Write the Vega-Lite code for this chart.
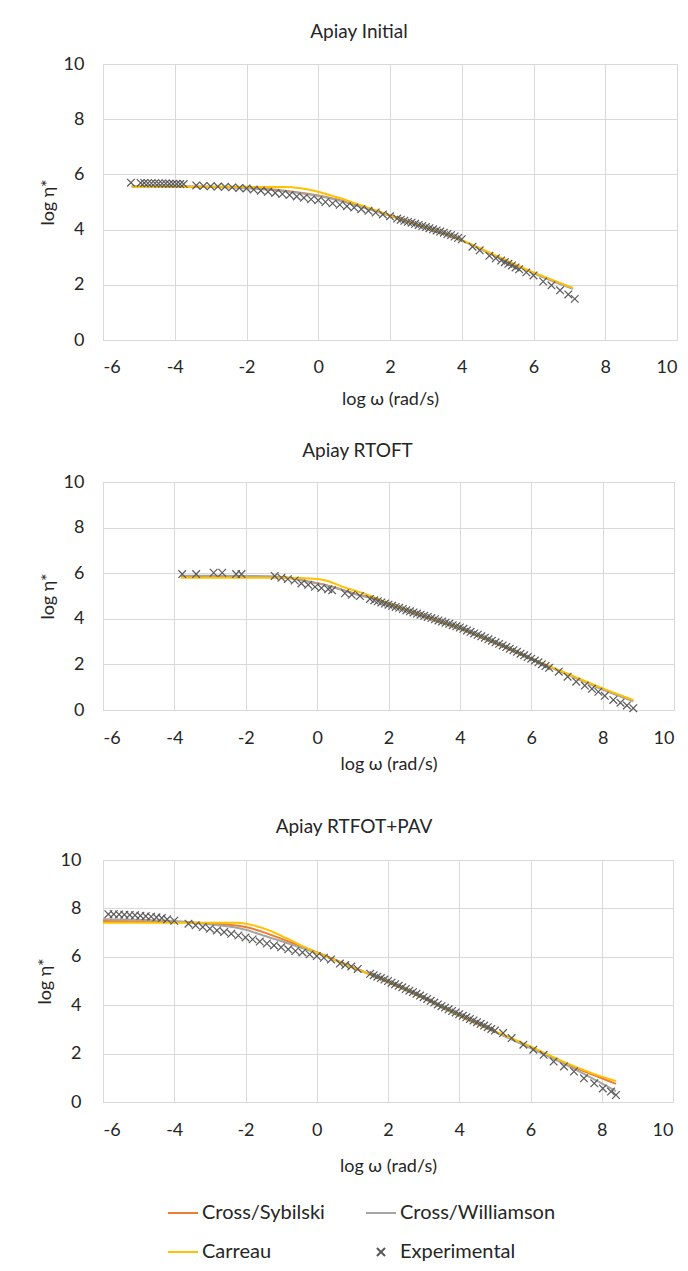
{
"$schema":"https://vega.github.io/schema/vega-lite/v6.json",
"padding":{"left":35,"top":22,"right":5,"bottom":5},
"background":"white",
"datasets":{
"p1":[
{"x":-5.2,"y":5.56,"s":"Cross/Sybilski"},{"x":-4,"y":5.56,"s":"Cross/Sybilski"},{"x":-3,"y":5.55,"s":"Cross/Sybilski"},{"x":-2,"y":5.51,"s":"Cross/Sybilski"},{"x":-1,"y":5.42,"s":"Cross/Sybilski"},{"x":-0.5,"y":5.34,"s":"Cross/Sybilski"},{"x":0,"y":5.24,"s":"Cross/Sybilski"},{"x":0.5,"y":5.1,"s":"Cross/Sybilski"},{"x":1,"y":4.92,"s":"Cross/Sybilski"},{"x":1.5,"y":4.72,"s":"Cross/Sybilski"},{"x":2,"y":4.51,"s":"Cross/Sybilski"},{"x":3,"y":4.07,"s":"Cross/Sybilski"},{"x":4,"y":3.61,"s":"Cross/Sybilski"},{"x":5,"y":3.01,"s":"Cross/Sybilski"},{"x":6,"y":2.43,"s":"Cross/Sybilski"},{"x":7.1,"y":1.87,"s":"Cross/Sybilski"},
{"x":-5.2,"y":5.57,"s":"Cross/Williamson"},{"x":-4,"y":5.56,"s":"Cross/Williamson"},{"x":-3,"y":5.55,"s":"Cross/Williamson"},{"x":-2,"y":5.5,"s":"Cross/Williamson"},{"x":-1,"y":5.4,"s":"Cross/Williamson"},{"x":-0.5,"y":5.32,"s":"Cross/Williamson"},{"x":0,"y":5.22,"s":"Cross/Williamson"},{"x":0.5,"y":5.08,"s":"Cross/Williamson"},{"x":1,"y":4.9,"s":"Cross/Williamson"},{"x":1.5,"y":4.71,"s":"Cross/Williamson"},{"x":2,"y":4.5,"s":"Cross/Williamson"},{"x":3,"y":4.06,"s":"Cross/Williamson"},{"x":4,"y":3.6,"s":"Cross/Williamson"},{"x":5,"y":3.0,"s":"Cross/Williamson"},{"x":6,"y":2.42,"s":"Cross/Williamson"},{"x":7.1,"y":1.85,"s":"Cross/Williamson"},
{"x":-5.2,"y":5.55,"s":"Carreau"},{"x":-4,"y":5.55,"s":"Carreau"},{"x":-3,"y":5.55,"s":"Carreau"},{"x":-2,"y":5.55,"s":"Carreau"},{"x":-1,"y":5.54,"s":"Carreau"},{"x":-0.5,"y":5.5,"s":"Carreau"},{"x":0,"y":5.37,"s":"Carreau"},{"x":0.5,"y":5.18,"s":"Carreau"},{"x":1,"y":4.97,"s":"Carreau"},{"x":1.5,"y":4.75,"s":"Carreau"},{"x":2,"y":4.52,"s":"Carreau"},{"x":3,"y":4.07,"s":"Carreau"},{"x":4,"y":3.62,"s":"Carreau"},{"x":5,"y":3.03,"s":"Carreau"},{"x":6,"y":2.45,"s":"Carreau"},{"x":7.1,"y":1.89,"s":"Carreau"},
{"x":-5.22,"y":5.7,"s":"Experimental"},{"x":-4.95,"y":5.69,"s":"Experimental"},{"x":-4.85,"y":5.69,"s":"Experimental"},{"x":-4.75,"y":5.68,"s":"Experimental"},{"x":-4.65,"y":5.68,"s":"Experimental"},{"x":-4.55,"y":5.68,"s":"Experimental"},{"x":-4.45,"y":5.67,"s":"Experimental"},{"x":-4.35,"y":5.67,"s":"Experimental"},{"x":-4.25,"y":5.67,"s":"Experimental"},{"x":-4.15,"y":5.66,"s":"Experimental"},{"x":-4.05,"y":5.66,"s":"Experimental"},{"x":-3.95,"y":5.66,"s":"Experimental"},{"x":-3.85,"y":5.65,"s":"Experimental"},{"x":-3.75,"y":5.65,"s":"Experimental"},
{"x":-3.4,"y":5.6,"s":"Experimental"},{"x":-3.2,"y":5.58,"s":"Experimental"},{"x":-3.0,"y":5.57,"s":"Experimental"},{"x":-2.8,"y":5.56,"s":"Experimental"},{"x":-2.6,"y":5.55,"s":"Experimental"},{"x":-2.4,"y":5.53,"s":"Experimental"},{"x":-2.2,"y":5.51,"s":"Experimental"},{"x":-2.0,"y":5.49,"s":"Experimental"},
{"x":-1.8,"y":5.45,"s":"Experimental"},{"x":-1.6,"y":5.41,"s":"Experimental"},{"x":-1.4,"y":5.37,"s":"Experimental"},{"x":-1.2,"y":5.33,"s":"Experimental"},{"x":-1.0,"y":5.29,"s":"Experimental"},{"x":-0.8,"y":5.25,"s":"Experimental"},{"x":-0.6,"y":5.2,"s":"Experimental"},{"x":-0.4,"y":5.15,"s":"Experimental"},{"x":-0.2,"y":5.1,"s":"Experimental"},{"x":0,"y":5.06,"s":"Experimental"},
{"x":0.2,"y":5.0,"s":"Experimental"},{"x":0.4,"y":4.95,"s":"Experimental"},{"x":0.6,"y":4.9,"s":"Experimental"},{"x":0.8,"y":4.85,"s":"Experimental"},{"x":1.0,"y":4.8,"s":"Experimental"},{"x":1.2,"y":4.74,"s":"Experimental"},{"x":1.4,"y":4.68,"s":"Experimental"},{"x":1.6,"y":4.62,"s":"Experimental"},{"x":1.8,"y":4.55,"s":"Experimental"},{"x":2.0,"y":4.48,"s":"Experimental"},
{"x":2.2,"y":4.4,"s":"Experimental"},{"x":2.3,"y":4.36,"s":"Experimental"},{"x":2.4,"y":4.32,"s":"Experimental"},{"x":2.5,"y":4.28,"s":"Experimental"},{"x":2.6,"y":4.25,"s":"Experimental"},{"x":2.7,"y":4.21,"s":"Experimental"},{"x":2.8,"y":4.17,"s":"Experimental"},{"x":2.9,"y":4.13,"s":"Experimental"},{"x":3.0,"y":4.09,"s":"Experimental"},{"x":3.1,"y":4.05,"s":"Experimental"},{"x":3.2,"y":4.01,"s":"Experimental"},{"x":3.3,"y":3.97,"s":"Experimental"},{"x":3.4,"y":3.93,"s":"Experimental"},{"x":3.5,"y":3.89,"s":"Experimental"},{"x":3.6,"y":3.84,"s":"Experimental"},{"x":3.7,"y":3.8,"s":"Experimental"},{"x":3.8,"y":3.75,"s":"Experimental"},{"x":3.9,"y":3.7,"s":"Experimental"},{"x":4.0,"y":3.65,"s":"Experimental"},
{"x":4.3,"y":3.38,"s":"Experimental"},{"x":4.5,"y":3.25,"s":"Experimental"},{"x":4.77,"y":3.05,"s":"Experimental"},{"x":4.95,"y":2.96,"s":"Experimental"},{"x":5.1,"y":2.88,"s":"Experimental"},{"x":5.2,"y":2.82,"s":"Experimental"},{"x":5.3,"y":2.76,"s":"Experimental"},{"x":5.4,"y":2.7,"s":"Experimental"},{"x":5.5,"y":2.63,"s":"Experimental"},{"x":5.6,"y":2.56,"s":"Experimental"},{"x":5.8,"y":2.45,"s":"Experimental"},{"x":6.0,"y":2.34,"s":"Experimental"},{"x":6.27,"y":2.12,"s":"Experimental"},{"x":6.5,"y":1.98,"s":"Experimental"},{"x":6.74,"y":1.8,"s":"Experimental"},{"x":6.97,"y":1.65,"s":"Experimental"},{"x":7.15,"y":1.49,"s":"Experimental"}
],
"p2":[
{"x":-3.82,"y":5.87,"s":"Cross/Sybilski"},{"x":-2,"y":5.86,"s":"Cross/Sybilski"},{"x":-1.2,"y":5.84,"s":"Cross/Sybilski"},{"x":-0.7,"y":5.77,"s":"Cross/Sybilski"},{"x":-0.25,"y":5.64,"s":"Cross/Sybilski"},{"x":0.12,"y":5.53,"s":"Cross/Sybilski"},{"x":0.7,"y":5.28,"s":"Cross/Sybilski"},{"x":1.15,"y":5.06,"s":"Cross/Sybilski"},{"x":1.5,"y":4.93,"s":"Cross/Sybilski"},{"x":2,"y":4.67,"s":"Cross/Sybilski"},{"x":3,"y":4.11,"s":"Cross/Sybilski"},{"x":4,"y":3.57,"s":"Cross/Sybilski"},{"x":5,"y":2.92,"s":"Cross/Sybilski"},{"x":6,"y":2.24,"s":"Cross/Sybilski"},{"x":7,"y":1.58,"s":"Cross/Sybilski"},{"x":8,"y":0.92,"s":"Cross/Sybilski"},{"x":8.86,"y":0.41,"s":"Cross/Sybilski"},
{"x":-3.82,"y":5.89,"s":"Cross/Williamson"},{"x":-2,"y":5.88,"s":"Cross/Williamson"},{"x":-1.2,"y":5.86,"s":"Cross/Williamson"},{"x":-0.7,"y":5.78,"s":"Cross/Williamson"},{"x":-0.25,"y":5.63,"s":"Cross/Williamson"},{"x":0.12,"y":5.52,"s":"Cross/Williamson"},{"x":0.7,"y":5.26,"s":"Cross/Williamson"},{"x":1.15,"y":5.04,"s":"Cross/Williamson"},{"x":1.5,"y":4.92,"s":"Cross/Williamson"},{"x":2,"y":4.66,"s":"Cross/Williamson"},{"x":3,"y":4.11,"s":"Cross/Williamson"},{"x":4,"y":3.57,"s":"Cross/Williamson"},{"x":5,"y":2.92,"s":"Cross/Williamson"},{"x":6,"y":2.23,"s":"Cross/Williamson"},{"x":7,"y":1.57,"s":"Cross/Williamson"},{"x":8,"y":0.9,"s":"Cross/Williamson"},{"x":8.86,"y":0.38,"s":"Cross/Williamson"},
{"x":-3.82,"y":5.8,"s":"Carreau"},{"x":-2,"y":5.8,"s":"Carreau"},{"x":-1,"y":5.8,"s":"Carreau"},{"x":-0.5,"y":5.79,"s":"Carreau"},{"x":0,"y":5.75,"s":"Carreau"},{"x":0.3,"y":5.66,"s":"Carreau"},{"x":0.7,"y":5.41,"s":"Carreau"},{"x":1.15,"y":5.19,"s":"Carreau"},{"x":1.5,"y":5.0,"s":"Carreau"},{"x":2,"y":4.68,"s":"Carreau"},{"x":3,"y":4.12,"s":"Carreau"},{"x":4,"y":3.58,"s":"Carreau"},{"x":5,"y":2.93,"s":"Carreau"},{"x":6,"y":2.25,"s":"Carreau"},{"x":7,"y":1.6,"s":"Carreau"},{"x":8,"y":0.95,"s":"Carreau"},{"x":8.86,"y":0.44,"s":"Carreau"},
{"x":-3.78,"y":5.96,"s":"Experimental"},{"x":-3.39,"y":5.96,"s":"Experimental"},{"x":-2.9,"y":6.02,"s":"Experimental"},{"x":-2.66,"y":6.02,"s":"Experimental"},{"x":-2.27,"y":5.96,"s":"Experimental"},{"x":-2.12,"y":5.96,"s":"Experimental"},{"x":-1.19,"y":5.88,"s":"Experimental"},{"x":-1.0,"y":5.8,"s":"Experimental"},{"x":-0.82,"y":5.74,"s":"Experimental"},{"x":-0.63,"y":5.68,"s":"Experimental"},{"x":-0.44,"y":5.55,"s":"Experimental"},{"x":-0.25,"y":5.49,"s":"Experimental"},{"x":-0.06,"y":5.4,"s":"Experimental"},{"x":0.12,"y":5.35,"s":"Experimental"},{"x":0.31,"y":5.3,"s":"Experimental"},{"x":0.42,"y":5.25,"s":"Experimental"},{"x":0.78,"y":5.12,"s":"Experimental"},{"x":0.97,"y":5.05,"s":"Experimental"},{"x":1.2,"y":5.0,"s":"Experimental"},{"x":1.48,"y":4.87,"s":"Experimental"},
{"x":1.6,"y":4.81,"s":"Experimental"},{"x":1.7,"y":4.77,"s":"Experimental"},{"x":1.8,"y":4.72,"s":"Experimental"},{"x":1.9,"y":4.67,"s":"Experimental"},{"x":2.0,"y":4.62,"s":"Experimental"},{"x":2.1,"y":4.57,"s":"Experimental"},{"x":2.2,"y":4.52,"s":"Experimental"},{"x":2.3,"y":4.48,"s":"Experimental"},{"x":2.4,"y":4.43,"s":"Experimental"},{"x":2.5,"y":4.38,"s":"Experimental"},{"x":2.6,"y":4.33,"s":"Experimental"},{"x":2.7,"y":4.28,"s":"Experimental"},{"x":2.8,"y":4.23,"s":"Experimental"},{"x":2.9,"y":4.18,"s":"Experimental"},{"x":3.0,"y":4.13,"s":"Experimental"},{"x":3.1,"y":4.08,"s":"Experimental"},{"x":3.2,"y":4.03,"s":"Experimental"},{"x":3.3,"y":3.98,"s":"Experimental"},{"x":3.4,"y":3.93,"s":"Experimental"},{"x":3.5,"y":3.88,"s":"Experimental"},{"x":3.6,"y":3.83,"s":"Experimental"},{"x":3.7,"y":3.78,"s":"Experimental"},{"x":3.8,"y":3.72,"s":"Experimental"},{"x":3.9,"y":3.67,"s":"Experimental"},{"x":4.0,"y":3.62,"s":"Experimental"},{"x":4.1,"y":3.56,"s":"Experimental"},{"x":4.2,"y":3.49,"s":"Experimental"},{"x":4.3,"y":3.43,"s":"Experimental"},{"x":4.4,"y":3.36,"s":"Experimental"},{"x":4.5,"y":3.3,"s":"Experimental"},{"x":4.6,"y":3.23,"s":"Experimental"},{"x":4.7,"y":3.17,"s":"Experimental"},{"x":4.8,"y":3.1,"s":"Experimental"},{"x":4.9,"y":3.04,"s":"Experimental"},{"x":5.0,"y":2.97,"s":"Experimental"},{"x":5.1,"y":2.9,"s":"Experimental"},{"x":5.2,"y":2.83,"s":"Experimental"},{"x":5.3,"y":2.76,"s":"Experimental"},{"x":5.4,"y":2.69,"s":"Experimental"},{"x":5.5,"y":2.62,"s":"Experimental"},{"x":5.6,"y":2.55,"s":"Experimental"},{"x":5.7,"y":2.47,"s":"Experimental"},{"x":5.8,"y":2.4,"s":"Experimental"},{"x":5.9,"y":2.32,"s":"Experimental"},{"x":6.0,"y":2.25,"s":"Experimental"},{"x":6.1,"y":2.17,"s":"Experimental"},{"x":6.2,"y":2.09,"s":"Experimental"},{"x":6.3,"y":2.01,"s":"Experimental"},{"x":6.4,"y":1.93,"s":"Experimental"},{"x":6.5,"y":1.85,"s":"Experimental"},
{"x":6.77,"y":1.68,"s":"Experimental"},{"x":7.02,"y":1.46,"s":"Experimental"},{"x":7.26,"y":1.24,"s":"Experimental"},{"x":7.5,"y":1.07,"s":"Experimental"},{"x":7.7,"y":0.93,"s":"Experimental"},{"x":7.88,"y":0.8,"s":"Experimental"},{"x":8.06,"y":0.62,"s":"Experimental"},{"x":8.3,"y":0.44,"s":"Experimental"},{"x":8.5,"y":0.32,"s":"Experimental"},{"x":8.68,"y":0.2,"s":"Experimental"},{"x":8.86,"y":0.08,"s":"Experimental"}
],
"p3":[
{"x":-6,"y":7.48,"s":"Cross/Sybilski"},{"x":-4,"y":7.44,"s":"Cross/Sybilski"},{"x":-3,"y":7.38,"s":"Cross/Sybilski"},{"x":-2,"y":7.23,"s":"Cross/Sybilski"},{"x":-1.5,"y":7.02,"s":"Cross/Sybilski"},{"x":-1,"y":6.75,"s":"Cross/Sybilski"},{"x":-0.5,"y":6.47,"s":"Cross/Sybilski"},{"x":0,"y":6.19,"s":"Cross/Sybilski"},{"x":1,"y":5.58,"s":"Cross/Sybilski"},{"x":2,"y":4.97,"s":"Cross/Sybilski"},{"x":3,"y":4.28,"s":"Cross/Sybilski"},{"x":4,"y":3.56,"s":"Cross/Sybilski"},{"x":5,"y":2.9,"s":"Cross/Sybilski"},{"x":6,"y":2.27,"s":"Cross/Sybilski"},{"x":7,"y":1.58,"s":"Cross/Sybilski"},{"x":8,"y":0.98,"s":"Cross/Sybilski"},{"x":8.4,"y":0.75,"s":"Cross/Sybilski"},
{"x":-6,"y":7.55,"s":"Cross/Williamson"},{"x":-4,"y":7.48,"s":"Cross/Williamson"},{"x":-3,"y":7.34,"s":"Cross/Williamson"},{"x":-2,"y":7.12,"s":"Cross/Williamson"},{"x":-1.5,"y":6.88,"s":"Cross/Williamson"},{"x":-1,"y":6.65,"s":"Cross/Williamson"},{"x":-0.5,"y":6.4,"s":"Cross/Williamson"},{"x":0,"y":6.15,"s":"Cross/Williamson"},{"x":1,"y":5.56,"s":"Cross/Williamson"},{"x":2,"y":4.96,"s":"Cross/Williamson"},{"x":3,"y":4.28,"s":"Cross/Williamson"},{"x":4,"y":3.56,"s":"Cross/Williamson"},{"x":5,"y":2.9,"s":"Cross/Williamson"},{"x":6,"y":2.23,"s":"Cross/Williamson"},{"x":7,"y":1.53,"s":"Cross/Williamson"},{"x":8,"y":0.77,"s":"Cross/Williamson"},{"x":8.4,"y":0.45,"s":"Cross/Williamson"},
{"x":-6,"y":7.41,"s":"Carreau"},{"x":-4,"y":7.41,"s":"Carreau"},{"x":-2.2,"y":7.41,"s":"Carreau"},{"x":-1.84,"y":7.32,"s":"Carreau"},{"x":-1.34,"y":7.09,"s":"Carreau"},{"x":-0.84,"y":6.76,"s":"Carreau"},{"x":-0.34,"y":6.4,"s":"Carreau"},{"x":0,"y":6.17,"s":"Carreau"},{"x":1,"y":5.56,"s":"Carreau"},{"x":2,"y":4.97,"s":"Carreau"},{"x":3,"y":4.3,"s":"Carreau"},{"x":4,"y":3.58,"s":"Carreau"},{"x":5,"y":2.93,"s":"Carreau"},{"x":6,"y":2.3,"s":"Carreau"},{"x":7,"y":1.62,"s":"Carreau"},{"x":8,"y":1.05,"s":"Carreau"},{"x":8.4,"y":0.87,"s":"Carreau"},
{"x":-5.85,"y":7.76,"s":"Experimental"},{"x":-5.7,"y":7.76,"s":"Experimental"},{"x":-5.55,"y":7.75,"s":"Experimental"},{"x":-5.4,"y":7.74,"s":"Experimental"},{"x":-5.25,"y":7.73,"s":"Experimental"},{"x":-5.1,"y":7.72,"s":"Experimental"},{"x":-4.95,"y":7.7,"s":"Experimental"},{"x":-4.8,"y":7.68,"s":"Experimental"},{"x":-4.65,"y":7.66,"s":"Experimental"},{"x":-4.5,"y":7.63,"s":"Experimental"},{"x":-4.35,"y":7.6,"s":"Experimental"},{"x":-4.2,"y":7.55,"s":"Experimental"},{"x":-4.0,"y":7.49,"s":"Experimental"},
{"x":-3.6,"y":7.37,"s":"Experimental"},{"x":-3.4,"y":7.3,"s":"Experimental"},{"x":-3.2,"y":7.23,"s":"Experimental"},{"x":-3.0,"y":7.16,"s":"Experimental"},{"x":-2.8,"y":7.09,"s":"Experimental"},{"x":-2.6,"y":7.02,"s":"Experimental"},{"x":-2.4,"y":6.95,"s":"Experimental"},{"x":-2.2,"y":6.88,"s":"Experimental"},
{"x":-2.0,"y":6.8,"s":"Experimental"},{"x":-1.8,"y":6.72,"s":"Experimental"},{"x":-1.6,"y":6.63,"s":"Experimental"},{"x":-1.4,"y":6.55,"s":"Experimental"},{"x":-1.2,"y":6.47,"s":"Experimental"},{"x":-1.0,"y":6.39,"s":"Experimental"},{"x":-0.8,"y":6.31,"s":"Experimental"},{"x":-0.6,"y":6.24,"s":"Experimental"},{"x":-0.4,"y":6.18,"s":"Experimental"},{"x":-0.2,"y":6.1,"s":"Experimental"},{"x":0.0,"y":6.03,"s":"Experimental"},{"x":0.2,"y":5.96,"s":"Experimental"},{"x":0.4,"y":5.89,"s":"Experimental"},
{"x":0.65,"y":5.72,"s":"Experimental"},{"x":0.8,"y":5.66,"s":"Experimental"},{"x":0.97,"y":5.6,"s":"Experimental"},{"x":1.15,"y":5.5,"s":"Experimental"},
{"x":1.5,"y":5.3,"s":"Experimental"},{"x":1.6,"y":5.24,"s":"Experimental"},{"x":1.7,"y":5.18,"s":"Experimental"},{"x":1.8,"y":5.12,"s":"Experimental"},{"x":1.9,"y":5.06,"s":"Experimental"},{"x":2.0,"y":5.0,"s":"Experimental"},{"x":2.1,"y":4.93,"s":"Experimental"},{"x":2.2,"y":4.87,"s":"Experimental"},{"x":2.3,"y":4.8,"s":"Experimental"},{"x":2.4,"y":4.74,"s":"Experimental"},{"x":2.5,"y":4.67,"s":"Experimental"},{"x":2.6,"y":4.6,"s":"Experimental"},{"x":2.7,"y":4.54,"s":"Experimental"},{"x":2.8,"y":4.47,"s":"Experimental"},{"x":2.9,"y":4.4,"s":"Experimental"},{"x":3.0,"y":4.33,"s":"Experimental"},{"x":3.1,"y":4.26,"s":"Experimental"},{"x":3.2,"y":4.18,"s":"Experimental"},{"x":3.3,"y":4.11,"s":"Experimental"},{"x":3.4,"y":4.03,"s":"Experimental"},{"x":3.5,"y":3.96,"s":"Experimental"},{"x":3.6,"y":3.9,"s":"Experimental"},{"x":3.7,"y":3.83,"s":"Experimental"},{"x":3.8,"y":3.76,"s":"Experimental"},{"x":3.9,"y":3.7,"s":"Experimental"},{"x":4.0,"y":3.63,"s":"Experimental"},{"x":4.1,"y":3.56,"s":"Experimental"},{"x":4.2,"y":3.5,"s":"Experimental"},{"x":4.3,"y":3.43,"s":"Experimental"},{"x":4.4,"y":3.37,"s":"Experimental"},{"x":4.5,"y":3.3,"s":"Experimental"},{"x":4.6,"y":3.23,"s":"Experimental"},{"x":4.7,"y":3.16,"s":"Experimental"},{"x":4.8,"y":3.09,"s":"Experimental"},{"x":4.9,"y":3.02,"s":"Experimental"},{"x":5.0,"y":2.95,"s":"Experimental"},
{"x":5.23,"y":2.85,"s":"Experimental"},{"x":5.47,"y":2.64,"s":"Experimental"},{"x":5.8,"y":2.37,"s":"Experimental"},{"x":6.08,"y":2.16,"s":"Experimental"},{"x":6.37,"y":1.95,"s":"Experimental"},{"x":6.65,"y":1.67,"s":"Experimental"},{"x":6.94,"y":1.47,"s":"Experimental"},{"x":7.22,"y":1.26,"s":"Experimental"},{"x":7.5,"y":0.98,"s":"Experimental"},{"x":7.79,"y":0.77,"s":"Experimental"},{"x":8.03,"y":0.56,"s":"Experimental"},{"x":8.26,"y":0.43,"s":"Experimental"},{"x":8.4,"y":0.29,"s":"Experimental"}
]
},
"resolve":{"scale":{"color":"independent","shape":"independent"}},
"spacing":43,
"vconcat":[
{"spacing":32,
 "resolve":{"scale":{"color":"independent","shape":"independent"}},
 "vconcat":[
 {"width":574,"height":276,"data":{"name":"p1"},
  "title":{"text":"Apiay Initial","dx":-31,"offset":13},
  "encoding":{
   "x":{"field":"x","type":"quantitative","scale":{"domain":[-6,10],"nice":false,"zero":false},"axis":{"title":"log ω (rad/s)","values":[-6,-4,-2,0,2,4,6,8,10],"labelExpr":"'' + datum.value","labelPadding":18,"titlePadding":14}},
   "y":{"field":"y","type":"quantitative","scale":{"domain":[0,10],"nice":false},"axis":{"title":"log η*","values":[0,2,4,6,8,10],"labelPadding":19,"titlePadding":6}},
   "color":{"field":"s","type":"nominal","legend":null,"scale":{"domain":["Cross/Sybilski","Cross/Williamson","Carreau","Experimental"],"range":["#ED7D31","#A5A5A5","#FFC000","#595959"]}}
  },
  "layer":[
   {"transform":[{"filter":"datum.s === 'Cross/Sybilski'"}],"mark":{"type":"line","strokeWidth":2,"interpolate":"monotone"}},
   {"transform":[{"filter":"datum.s === 'Cross/Williamson'"}],"mark":{"type":"line","strokeWidth":2,"interpolate":"monotone"}},
   {"transform":[{"filter":"datum.s === 'Carreau'"}],"mark":{"type":"line","strokeWidth":2,"interpolate":"monotone"}},
   {"transform":[{"filter":"datum.s === 'Experimental'"}],"mark":{"type":"point","filled":false,"size":800,"strokeWidth":1.2,"opacity":1},
    "encoding":{"shape":{"field":"s","type":"nominal","legend":null,"scale":{"domain":["Cross/Sybilski","Cross/Williamson","Carreau","Experimental"],"range":["stroke","stroke","stroke","M-0.27,-0.27L0.27,0.27M-0.27,0.27L0.27,-0.27"]}}}}
  ]
 },
 {"width":571,"height":228,"data":{"name":"p2"},
  "title":{"text":"Apiay RTOFT","dx":-31,"offset":12},
  "encoding":{
   "x":{"field":"x","type":"quantitative","scale":{"domain":[-6,10],"nice":false,"zero":false},"axis":{"title":"log ω (rad/s)","values":[-6,-4,-2,0,2,4,6,8,10],"labelExpr":"'' + datum.value","labelPadding":19,"titlePadding":8}},
   "y":{"field":"y","type":"quantitative","scale":{"domain":[0,10],"nice":false},"axis":{"title":"log η*","values":[0,2,4,6,8,10],"labelPadding":19,"titlePadding":6}},
   "color":{"field":"s","type":"nominal","legend":null,"scale":{"domain":["Cross/Sybilski","Cross/Williamson","Carreau","Experimental"],"range":["#ED7D31","#A5A5A5","#FFC000","#595959"]}}
  },
  "layer":[
   {"transform":[{"filter":"datum.s === 'Cross/Sybilski'"}],"mark":{"type":"line","strokeWidth":2,"interpolate":"monotone"}},
   {"transform":[{"filter":"datum.s === 'Cross/Williamson'"}],"mark":{"type":"line","strokeWidth":2,"interpolate":"monotone"}},
   {"transform":[{"filter":"datum.s === 'Carreau'"}],"mark":{"type":"line","strokeWidth":2,"interpolate":"monotone"}},
   {"transform":[{"filter":"datum.s === 'Experimental'"}],"mark":{"type":"point","filled":false,"size":800,"strokeWidth":1.2,"opacity":1},
    "encoding":{"shape":{"field":"s","type":"nominal","legend":null,"scale":{"domain":["Cross/Sybilski","Cross/Williamson","Carreau","Experimental"],"range":["stroke","stroke","stroke","M-0.27,-0.27L0.27,0.27M-0.27,0.27L0.27,-0.27"]}}}}
  ]
 }
 ]
},
{"width":570,"height":242,"data":{"name":"p3"},
  "title":{"text":"Apiay RTFOT+PAV","dx":-34,"offset":14},
  "encoding":{
   "x":{"field":"x","type":"quantitative","scale":{"domain":[-6,10],"nice":false,"zero":false},"axis":{"title":"log ω (rad/s)","values":[-6,-4,-2,0,2,4,6,8,10],"labelExpr":"'' + datum.value","labelPadding":19,"titlePadding":18}},
   "y":{"field":"y","type":"quantitative","scale":{"domain":[0,10],"nice":false},"axis":{"title":"log η*","values":[0,2,4,6,8,10],"labelPadding":22,"titlePadding":6}},
   "color":{"field":"s","type":"nominal","legend":{"orient":"none","direction":"horizontal","legendX":64,"legendY":337,"columns":2,"title":null,"symbolSize":900,"symbolStrokeWidth":2,"labelFontSize":20,"labelFont":"Lato","labelColor":"#262626","columnPadding":37,"rowPadding":13,"labelOffset":3,"padding":0},"scale":{"domain":["Cross/Sybilski","Cross/Williamson","Carreau","Experimental"],"range":["#ED7D31","#A5A5A5","#FFC000","#595959"]}}
  },
  "layer":[
   {"transform":[{"filter":"datum.s === 'Cross/Sybilski'"}],"mark":{"type":"line","strokeWidth":2,"interpolate":"monotone"}},
   {"transform":[{"filter":"datum.s === 'Cross/Williamson'"}],"mark":{"type":"line","strokeWidth":2,"interpolate":"monotone"}},
   {"transform":[{"filter":"datum.s === 'Carreau'"}],"mark":{"type":"line","strokeWidth":2,"interpolate":"monotone"}},
   {"transform":[{"filter":"datum.s === 'Experimental'"}],"mark":{"type":"point","filled":false,"size":800,"strokeWidth":1.2,"opacity":1},
    "encoding":{"shape":{"field":"s","type":"nominal","legend":{"orient":"none","direction":"horizontal","legendX":64,"legendY":337,"columns":2,"title":null,"symbolSize":900,"symbolStrokeWidth":2,"labelFontSize":20,"labelFont":"Lato","labelColor":"#262626","columnPadding":37,"rowPadding":13,"labelOffset":3,"padding":0},"scale":{"domain":["Cross/Sybilski","Cross/Williamson","Carreau","Experimental"],"range":["stroke","stroke","stroke","M-0.27,-0.27L0.27,0.27M-0.27,0.27L0.27,-0.27"]}}}}
  ]
}
],
"config":{
 "font":"Lato",
 "view":{"stroke":"#d9d9d9","strokeWidth":1},
 "axis":{"gridColor":"#d9d9d9","gridWidth":1,"labelFont":"Lato","titleFont":"Lato","labelFontSize":18,"titleFontSize":18,"labelColor":"#262626","titleColor":"#262626","titleFontWeight":"normal","ticks":false,"domain":false},
 "title":{"font":"Lato","fontSize":19,"fontWeight":"normal","color":"#262626"}
}
}
